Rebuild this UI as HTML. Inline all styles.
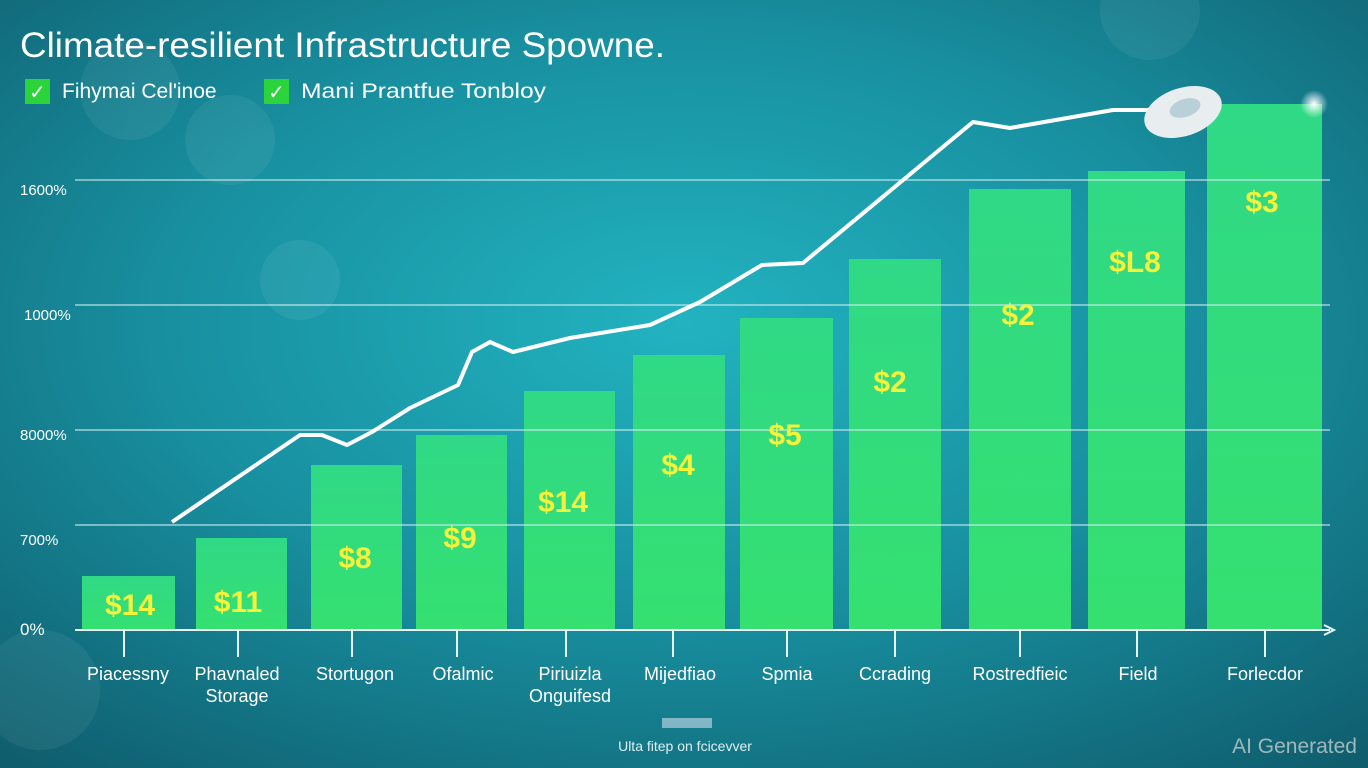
<!DOCTYPE html>
<html><head><meta charset="utf-8"><style>
html,body{margin:0;padding:0;width:1368px;height:768px;overflow:hidden}
body{font-family:"Liberation Sans",sans-serif}
</style></head><body>
<svg width="1368" height="768" viewBox="0 0 1368 768" xmlns="http://www.w3.org/2000/svg">
<defs>
<radialGradient id="bg" cx="0.5" cy="0.42" r="0.75">
<stop offset="0" stop-color="#22b3c0"/>
<stop offset="0.5" stop-color="#1890a0"/>
<stop offset="1" stop-color="#0f5e6e"/>
</radialGradient>
<linearGradient id="bar" x1="0" y1="0" x2="0" y2="1">
<stop offset="0" stop-color="#30d986"/>
<stop offset="1" stop-color="#35e070"/>
</linearGradient>
<radialGradient id="glow" cx="0.5" cy="0.5" r="0.5">
<stop offset="0" stop-color="#fff" stop-opacity="1"/>
<stop offset="1" stop-color="#fff" stop-opacity="0"/>
</radialGradient>
</defs>
<rect width="1368" height="768" fill="url(#bg)"/>
<g fill="#fff" opacity="0.06">
<circle cx="230" cy="140" r="45"/><circle cx="300" cy="280" r="40"/><circle cx="40" cy="690" r="60"/><circle cx="130" cy="90" r="50"/><circle cx="1150" cy="10" r="50"/>
</g>
<g fill="url(#bar)">
<rect x="82" y="576" width="93" height="54"/>
<rect x="196" y="538" width="91" height="92"/>
<rect x="311" y="465" width="91" height="165"/>
<rect x="416" y="435" width="91" height="195"/>
<rect x="524" y="391" width="91" height="239"/>
<rect x="633" y="355" width="92" height="275"/>
<rect x="740" y="318" width="93" height="312"/>
<rect x="849" y="259" width="92" height="371"/>
<rect x="969" y="189" width="102" height="441"/>
<rect x="1088" y="171" width="97" height="459"/>
<rect x="1207" y="104" width="115" height="526"/>
</g>
<g stroke="#cfeef0" stroke-width="2" opacity="0.55">
<line x1="75" y1="180" x2="1330" y2="180"/>
<line x1="75" y1="305" x2="1330" y2="305"/>
<line x1="75" y1="430" x2="1330" y2="430"/>
<line x1="75" y1="525" x2="1330" y2="525"/>
</g>
<g stroke="#e8f8f8" stroke-width="2">
<line x1="75" y1="630" x2="1330" y2="630"/>
<polyline points="1324,625 1334,630 1324,635" fill="none"/>
<line x1="124" y1="630" x2="124" y2="657"/><line x1="238" y1="630" x2="238" y2="657"/><line x1="352" y1="630" x2="352" y2="657"/><line x1="457" y1="630" x2="457" y2="657"/><line x1="566" y1="630" x2="566" y2="657"/><line x1="673" y1="630" x2="673" y2="657"/><line x1="787" y1="630" x2="787" y2="657"/><line x1="895" y1="630" x2="895" y2="657"/><line x1="1020" y1="630" x2="1020" y2="657"/><line x1="1137" y1="630" x2="1137" y2="657"/><line x1="1265" y1="630" x2="1265" y2="657"/>
</g>
<polyline fill="none" stroke="#fff" stroke-width="4" stroke-linejoin="round" points="172,522 300,435 322,435 347,445 372,432 410,408 458,385 472,352 490,342 513,352 570,338 650,325 700,302 762,265 803,263 973,122 1010,128 1113,110 1150,110"/>
<ellipse cx="1183" cy="112" rx="40" ry="24" fill="#e8eef0" transform="rotate(-18 1183 112)"/>
<ellipse cx="1185" cy="108" rx="16" ry="9" fill="#b8d0d8" transform="rotate(-18 1185 108)"/>
<circle cx="1314" cy="104" r="14" fill="url(#glow)"/>
<g font-family="Liberation Sans, sans-serif" font-weight="bold" fill="#f4f23a" font-size="30" text-anchor="middle">
<text x="130" y="615">$14</text><text x="238" y="612">$11</text><text x="355" y="568">$8</text><text x="460" y="548">$9</text><text x="563" y="512">$14</text><text x="678" y="475">$4</text><text x="785" y="445">$5</text><text x="890" y="392">$2</text><text x="1018" y="325">$2</text><text x="1135" y="272">$L8</text><text x="1262" y="212">$3</text>
</g>
<g fill="#fff" font-size="15" font-family="Liberation Sans, sans-serif">
<text x="20" y="195">1600%</text><text x="24" y="320">1000%</text><text x="20" y="440">8000%</text><text x="20" y="545">700%</text><text x="20" y="635" font-size="17">0%</text>
</g>
<g fill="#fff" font-size="18" text-anchor="middle" font-family="Liberation Sans, sans-serif">
<text x="128" y="680">Piacessny</text><text x="237" y="680">Phavnaled</text><text x="237" y="702">Storage</text><text x="355" y="680">Stortugon</text><text x="463" y="680">Ofalmic</text><text x="570" y="680">Piriuizla</text><text x="570" y="702">Onguifesd</text><text x="680" y="680">Mijedfiao</text><text x="787" y="680">Spmia</text><text x="895" y="680">Ccrading</text><text x="1020" y="680">Rostredfieic</text><text x="1138" y="680">Field</text><text x="1265" y="680">Forlecdor</text>
</g>
<text x="20" y="57" font-size="35" fill="#fff" font-family="Liberation Sans, sans-serif" textLength="645" lengthAdjust="spacingAndGlyphs">Climate-resilient Infrastructure Spowne.</text>
<rect x="25" y="79" width="25" height="25" fill="#2bd43b"/><text x="29" y="99" fill="#fff" font-size="20">✓</text>
<text x="62" y="98" fill="#fff" font-size="21">Fihymai Cel'inoe</text>
<rect x="264" y="79" width="25" height="25" fill="#2bd43b"/><text x="268" y="99" fill="#fff" font-size="20">✓</text>
<text x="301" y="98" fill="#fff" font-size="21" textLength="245" lengthAdjust="spacingAndGlyphs">Mani Prantfue  Tonbloy</text>
<text x="685" y="751" fill="#dbeff0" font-size="14" text-anchor="middle">Ulta fitep on fcicevver</text>
<rect x="662" y="718" width="50" height="10" fill="#cde" opacity="0.6"/>
<text x="1357" y="753" fill="#9fb8bc" font-size="21" text-anchor="end">AI Generated</text>
</svg>
</body></html>
